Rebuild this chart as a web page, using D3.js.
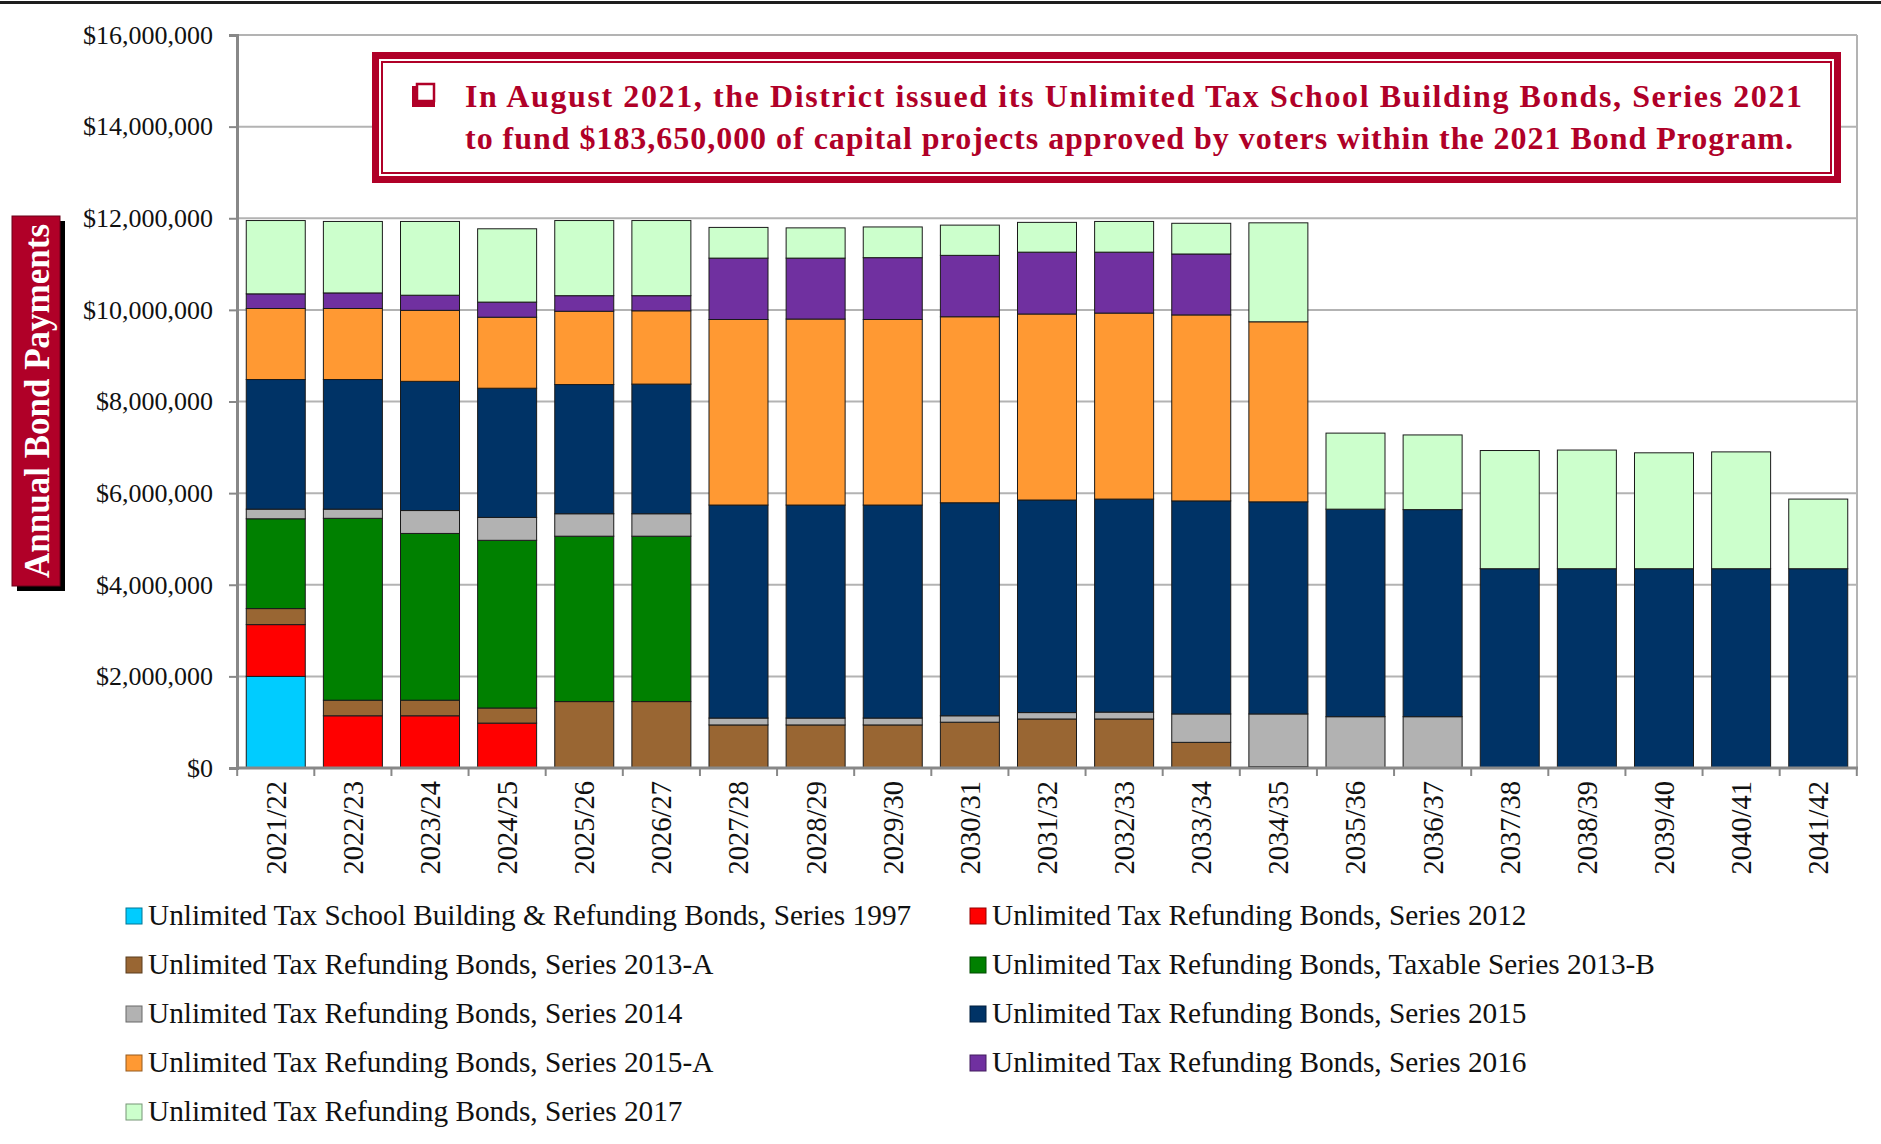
<!DOCTYPE html>
<html>
<head>
<meta charset="utf-8">
<script src="https://cdn.jsdelivr.net/npm/d3@7"></script>
<style>
  body { margin: 0; background: #fff; }
  svg { display: block; }
</style>
</head>
<body>
<div id="chart"></div>
<script>
//////////////////////////////////////////////////////////////////////////////
// Data: annual bond payments by series (dollars)

var years = ["2021/22", "2022/23", "2023/24", "2024/25", "2025/26", "2026/27",
             "2027/28", "2028/29", "2029/30", "2030/31", "2031/32", "2032/33",
             "2033/34", "2034/35", "2035/36", "2036/37", "2037/38", "2038/39",
             "2039/40", "2040/41", "2041/42"];

var s1997  = [2000000, 0, 0, 0, 0, 0, 0, 0, 0, 0, 0, 0, 0, 0, 0, 0, 0, 0, 0, 0, 0];
var s2012  = [1130000, 1140000, 1140000, 980000, 0, 0, 0, 0, 0, 0, 0, 0, 0, 0, 0, 0, 0, 0, 0, 0, 0];
var s2013A = [350000, 340000, 340000, 330000, 1450000, 1450000, 940000, 940000, 940000, 1000000,
              1070000, 1070000, 560000, 30000, 0, 0, 0, 0, 0, 0, 0];
var s2013B = [1960000, 3970000, 3640000, 3660000, 3610000, 3610000, 0, 0, 0, 0, 0, 0, 0, 0, 0, 0, 0, 0, 0, 0, 0];
var s2014  = [210000, 200000, 500000, 500000, 490000, 490000, 150000, 150000, 150000, 140000,
              140000, 150000, 620000, 1150000, 1120000, 1120000, 0, 0, 0, 0, 0];
var s2015  = [2830000, 2830000, 2820000, 2820000, 2820000, 2830000, 4650000, 4650000, 4650000, 4650000,
              4640000, 4650000, 4650000, 4630000, 4530000, 4520000, 4350000, 4350000, 4350000, 4350000, 4350000];
var s2015A = [1550000, 1550000, 1550000, 1550000, 1600000, 1600000, 4050000, 4060000, 4050000, 4060000,
              4060000, 4060000, 4060000, 3930000, 0, 0, 0, 0, 0, 0, 0];
var s2016  = [320000, 340000, 330000, 330000, 340000, 330000, 1340000, 1330000, 1350000, 1340000,
              1350000, 1330000, 1330000, 0, 0, 0, 0, 0, 0, 0, 0];
var s2017  = [1600000, 1560000, 1610000, 1600000, 1640000, 1640000, 670000, 660000, 670000, 660000,
              650000, 670000, 670000, 2160000, 1660000, 1630000, 2580000, 2590000, 2530000, 2550000, 1520000];

var seriesNames = [
    "Unlimited Tax School Building & Refunding Bonds, Series 1997",
    "Unlimited Tax Refunding Bonds, Series 2012",
    "Unlimited Tax Refunding Bonds, Series 2013-A",
    "Unlimited Tax Refunding Bonds, Taxable Series 2013-B",
    "Unlimited Tax Refunding Bonds, Series 2014",
    "Unlimited Tax Refunding Bonds, Series 2015",
    "Unlimited Tax Refunding Bonds, Series 2015-A",
    "Unlimited Tax Refunding Bonds, Series 2016",
    "Unlimited Tax Refunding Bonds, Series 2017"
];
var seriesValues = [s1997, s2012, s2013A, s2013B, s2014, s2015, s2015A, s2016, s2017];
var seriesColors = ["#00ccff", "#ff0000", "#996633", "#008000", "#b2b2b2",
                    "#003366", "#ff9933", "#7030a0", "#ccffcc"];

var yTicks = [0, 2000000, 4000000, 6000000, 8000000, 10000000, 12000000, 14000000, 16000000];

var yTitle = "Annual Bond Payments";
var noteLines = [
    "In August 2021, the District issued its Unlimited Tax School Building Bonds, Series 2021",
    "to fund $183,650,000 of capital projects approved by voters within the 2021 Bond Program."
];

//////////////////////////////////////////////////////////////////////////////
// Layout

var width = 1881, height = 1144;
var plot = { left: 237, right: 1857, top: 35, bottom: 768 };
var serif = "'Liberation Serif', 'Times New Roman', serif";
var red = "#b00028";

var svg = d3.select("#chart").append("svg")
    .attr("width", width)
    .attr("height", height);

// build the table for the stack
var table = years.map(function(y, i) {
    var row = { year: y };
    seriesNames.forEach(function(n, k) { row[n] = seriesValues[k][i]; });
    return row;
});
var stacked = d3.stack().keys(seriesNames)(table);

var xScale = d3.scaleBand()
    .domain(years)
    .range([plot.left, plot.right])
    .paddingInner(0.235)
    .paddingOuter(0.12);

var yScale = d3.scaleLinear()
    .domain([0, 16000000])
    .range([plot.bottom, plot.top]);

// top rule
svg.append("rect")
    .attr("x", 0).attr("y", 1)
    .attr("width", width).attr("height", 3)
    .attr("fill", "#1e1e1e");

// gridlines
svg.append("g")
    .selectAll("line")
    .data(yTicks.slice(1))
    .enter()
    .append("line")
    .attr("x1", plot.left).attr("x2", plot.right)
    .attr("y1", function(d) { return yScale(d); })
    .attr("y2", function(d) { return yScale(d); })
    .attr("stroke", "#b3b3b3")
    .attr("stroke-width", 2);

// right border of plot
svg.append("line")
    .attr("x1", plot.right).attr("x2", plot.right)
    .attr("y1", plot.top).attr("y2", plot.bottom)
    .attr("stroke", "#b3b3b3")
    .attr("stroke-width", 2);

// bars
svg.append("g")
    .selectAll("g")
    .data(stacked)
    .enter()
    .append("g")
    .attr("fill", function(d, i) { return seriesColors[i]; })
    .selectAll("rect")
    .data(function(d) { return d.filter(function(p) { return p[1] - p[0] > 0; }); })
    .enter()
    .append("rect")
    .attr("x", function(d) { return xScale(d.data.year); })
    .attr("y", function(d) { return yScale(d[1]); })
    .attr("width", xScale.bandwidth())
    .attr("height", function(d) { return yScale(d[0]) - yScale(d[1]); })
    .attr("stroke", "#1a1a1a")
    .attr("stroke-width", 1);

// y axis
var yAxis = svg.append("g")
    .attr("transform", "translate(" + plot.left + ",0)")
    .call(d3.axisLeft(yScale)
        .tickValues(yTicks)
        .tickFormat(d3.format("$,"))
        .tickSize(8)
        .tickPadding(16));
yAxis.select(".domain").attr("stroke", "#888").attr("stroke-width", 3);
yAxis.selectAll(".tick line").attr("stroke", "#888").attr("stroke-width", 2);
yAxis.selectAll(".tick text")
    .attr("font-family", serif)
    .attr("font-size", 26)
    .attr("fill", "#111");

// x axis line
svg.append("line")
    .attr("x1", plot.left - 1).attr("x2", plot.right + 1)
    .attr("y1", plot.bottom).attr("y2", plot.bottom)
    .attr("stroke", "#888")
    .attr("stroke-width", 3);

// x ticks at band boundaries
var half = (xScale.step() - xScale.bandwidth()) / 2;
var bounds = years.map(function(y) { return xScale(y) - half; });
bounds.push(xScale(years[years.length - 1]) + xScale.bandwidth() + half);
svg.append("g")
    .selectAll("line")
    .data(bounds)
    .enter()
    .append("line")
    .attr("x1", function(d) { return d; }).attr("x2", function(d) { return d; })
    .attr("y1", plot.bottom).attr("y2", plot.bottom + 8)
    .attr("stroke", "#888")
    .attr("stroke-width", 2);

// x labels, rotated
svg.append("g")
    .selectAll("text")
    .data(years)
    .enter()
    .append("text")
    .attr("transform", function(d) {
        return "translate(" + (xScale(d) + xScale.bandwidth() / 2) + "," + (plot.bottom + 13) + ") rotate(-90)";
    })
    .attr("text-anchor", "end")
    .attr("dy", "0.35em")
    .attr("font-family", serif)
    .attr("font-size", 28.5)
    .attr("fill", "#111")
    .text(function(d) { return d; });

// y title box with shadow
var tBox = { x: 12, y: 216, w: 48, h: 370 };
svg.append("rect")
    .attr("x", tBox.x + 5).attr("y", tBox.y + 5)
    .attr("width", tBox.w).attr("height", tBox.h)
    .attr("fill", "#000");
svg.append("rect")
    .attr("x", tBox.x).attr("y", tBox.y)
    .attr("width", tBox.w).attr("height", tBox.h)
    .attr("fill", red)
    .attr("stroke", "#6b0019")
    .attr("stroke-width", 1);
svg.append("text")
    .attr("transform", "translate(" + (tBox.x + tBox.w / 2 + 1) + "," + (tBox.y + tBox.h / 2) + ") rotate(-90)")
    .attr("text-anchor", "middle")
    .attr("dy", "0.35em")
    .attr("font-family", serif)
    .attr("font-weight", "bold")
    .attr("font-size", 35)
    .attr("fill", "#fff")
    .text(yTitle);

// annotation box
var nBox = { x: 372, y: 52, w: 1469, h: 131 };
var note = svg.append("g");
note.append("rect")
    .attr("x", nBox.x).attr("y", nBox.y)
    .attr("width", nBox.w).attr("height", nBox.h)
    .attr("fill", red);
note.append("rect")
    .attr("x", nBox.x + 7).attr("y", nBox.y + 7)
    .attr("width", nBox.w - 14).attr("height", nBox.h - 14)
    .attr("fill", "#fff");
note.append("rect")
    .attr("x", nBox.x + 10).attr("y", nBox.y + 10)
    .attr("width", nBox.w - 20).attr("height", nBox.h - 20)
    .attr("fill", "none")
    .attr("stroke", red)
    .attr("stroke-width", 2);

// checkbox bullet
note.append("rect")
    .attr("x", 412).attr("y", 86)
    .attr("width", 23).attr("height", 21)
    .attr("fill", red);
note.append("rect")
    .attr("x", 417).attr("y", 84)
    .attr("width", 17).attr("height", 17)
    .attr("fill", "#fff")
    .attr("stroke", red)
    .attr("stroke-width", 2.5);

var noteWidths = [1337, 1328];
note.selectAll("text.note")
    .data(noteLines)
    .enter()
    .append("text")
    .attr("class", "note")
    .attr("x", 465)
    .attr("y", function(d, i) { return 107 + i * 42; })
    .attr("font-family", serif)
    .attr("font-weight", "bold")
    .attr("font-size", 32)
    .attr("fill", red)
    .attr("textLength", function(d, i) { return noteWidths[i]; })
    .attr("lengthAdjust", "spacing")
    .text(function(d) { return d; });

// legend
var legend = svg.append("g")
    .selectAll("g")
    .data(seriesNames)
    .enter()
    .append("g")
    .attr("transform", function(d, i) {
        var col = i % 2, row = Math.floor(i / 2);
        return "translate(" + (col === 0 ? 126 : 970) + "," + (925 + row * 49) + ")";
    });
legend.append("rect")
    .attr("x", 0).attr("y", -17)
    .attr("width", 16).attr("height", 16)
    .attr("fill", function(d, i) { return seriesColors[i]; })
    .attr("stroke", function(d, i) { return d3.color(seriesColors[i]).darker(1.5); })
    .attr("stroke-width", 1);
legend.append("text")
    .attr("x", 22)
    .attr("y", 0)
    .attr("font-family", serif)
    .attr("font-size", 29.3)
    .attr("fill", "#111")
    .text(function(d) { return d; });
</script>
</body>
</html>
